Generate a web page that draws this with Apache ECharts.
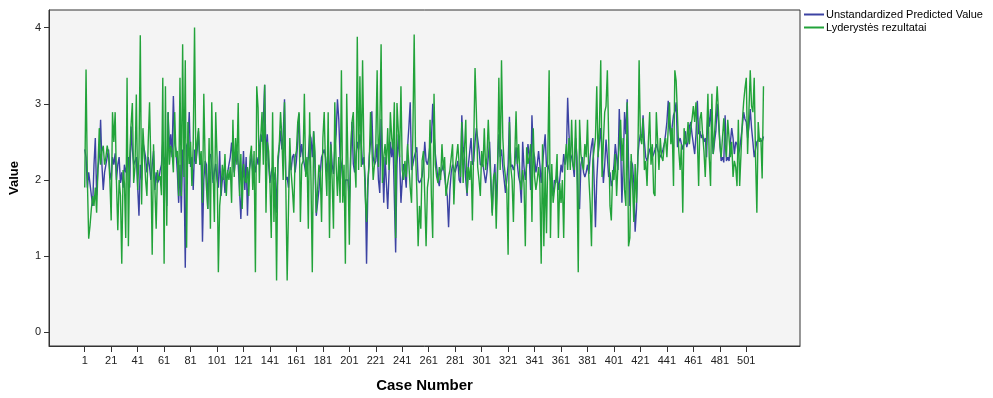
<!DOCTYPE html>
<html>
<head>
<meta charset="utf-8">
<script src="https://cdn.jsdelivr.net/npm/echarts@6/dist/echarts.min.js"></script>
<style>
  html, body { margin: 0; padding: 0; background: #ffffff; }
  #chart { width: 993px; height: 398px; }
</style>
</head>
<body>
<div id="chart"></div>
<script>
// tick labels shown on the axes
const xTickCases = [1, 21, 41, 61, 81, 101, 121, 141, 161, 181, 201, 221, 241, 261, 281, 301, 321, 341, 361, 381, 401, 421, 441, 461, 481, 501];
const yTickValues = [0, 1, 2, 3, 4];

const seriesNames = ['Unstandardized Predicted Value', 'Lyderystės rezultatai'];

// Unstandardized Predicted Value, case 1..514
const predicted = [
  2.4, 2.3, 1.9, 2.1, 2.1, 1.8, 1.66, 2.2, 2.55, 1.8,
  2.15, 2.3, 2.79, 2.2, 1.87, 2.1, 2.2, 2.2, 2.4, 2.1,
  2.0, 2.3, 2.2, 2.35, 2.0, 2.2, 2.3, 1.96, 2.1, 1.9,
  2.2, 2.1, 2.1, 2.3, 1.9, 2.7, 2.4, 2.2, 2.2, 2.3,
  2.3, 1.53, 2.2, 2.0, 2.5, 2.4, 2.3, 2.1, 2.3,
  2.17, 2.0, 2.2, 2.38, 1.87, 2.1, 1.96, 2.0, 2.13, 2.2,
  2.5, 2.2, 2.3, 1.66, 2.89, 2.4, 2.6, 2.3, 3.1, 2.5,
  2.38, 2.1, 1.7, 2.2, 1.57, 2.4, 2.2, 0.85, 2.45, 2.5,
  2.89, 2.17, 2.3, 1.87, 2.4, 2.21, 2.4, 2.64, 2.2, 2.3,
  1.19, 2.0, 2.25, 2.2, 1.62, 2.3, 2.34, 2.2, 1.96, 2.1,
  2.21, 2.0,
  1.9, 2.38, 1.79, 2.0, 2.1, 1.83, 2.0, 2.1,
  2.2, 2.3, 2.49, 2.3, 2.1, 2.3, 2.38, 2.2, 1.87, 1.49,
  2.0, 2.38, 1.87, 2.3, 1.53, 2.1, 2.2, 2.34, 2.1, 2.2,
  2.1, 2.3, 2.2, 2.21, 2.6, 2.5, 2.8, 3.25, 2.25, 2.6,
  2.2, 1.96, 2.1, 2.17, 2.0, 2.1, 1.57, 2.2, 2.21, 2.65,
  2.4, 2.6, 3.06, 2.0,
  2.04, 1.9, 2.3, 2.13, 2.3, 2.34,
  2.1, 2.25, 2.5, 2.87, 2.3, 2.47, 2.3, 2.2, 2.1, 2.13,
  2.3, 2.6, 2.55, 2.3, 2.64, 2.2, 1.53, 1.7, 1.87, 2.1,
  2.3, 2.3, 2.4, 2.3, 2.1, 2.3, 2.0, 2.5, 2.2, 2.08,
  2.4, 2.6, 3.06, 2.8, 2.3, 2.21, 2.0, 1.79, 2.0, 2.0,
  2.0, 1.7, 2.3, 2.76, 2.21, 2.1, 2.3, 2.5,
  2.4, 2.6,
  2.47, 2.2, 2.3, 2.0, 0.9, 1.9, 2.3, 2.5, 2.9, 2.3,
  2.2, 2.25, 2.47, 2.0, 1.83, 2.8, 2.3, 1.7, 2.3, 2.3,
  1.62, 2.1, 2.5, 2.3, 2.5, 2.5, 1.05, 2.2, 2.6, 2.3,
  1.7, 2.0, 2.21, 2.1, 1.9, 2.43, 2.7, 3.02, 2.13, 2.2,
  2.3, 2.3, 2.43, 2.0, 1.96, 2.0, 2.05, 2.2, 2.5,
  2.25,
  2.2, 2.3, 2.47, 2.5, 3.0, 2.6, 2.34, 2.34, 2.0, 1.92,
  2.1, 2.13, 2.2, 2.21, 1.9, 1.79, 1.38, 1.87, 2.1, 2.2,
  2.21, 2.1, 2.09, 2.25, 2.0, 1.96, 2.85, 2.43, 2.3, 2.0,
  1.79, 2.2, 2.2, 2.55, 2.2, 2.25, 2.5, 2.68, 2.68, 2.4,
  2.2, 2.21, 2.2, 2.21, 1.96, 2.1, 2.3, 2.5, 2.0, 1.57,
  2.0, 2.21,
  1.62, 2.2, 2.6, 2.3, 2.4, 2.17, 2.0, 1.83,
  2.0, 2.2, 2.83, 2.17, 2.2, 2.13, 2.2, 2.43, 2.2, 2.04,
  1.96, 1.7, 2.5, 2.17, 2.0, 2.2, 2.47, 2.3, 1.87, 2.85,
  2.38, 2.3, 2.1, 2.2, 2.38, 2.2, 1.96, 2.2, 2.4, 2.6,
  2.17, 2.2, 2.13, 2.0, 2.0, 1.79, 2.0, 1.96, 2.1, 1.87,
  2.0, 2.2, 2.1, 2.34,
  2.2, 2.3, 3.08, 2.6, 2.34, 2.3,
  2.2, 2.04, 2.55, 2.3, 1.66, 1.62, 2.2, 2.3, 2.1, 2.04,
  2.1, 2.2, 2.08, 2.3, 2.45, 2.55, 2.0, 1.38, 2.0, 2.34,
  2.5, 2.68, 2.3, 1.96, 2.2, 2.53, 2.3, 2.04, 2.1, 1.92,
  2.0, 2.2, 2.47, 2.3, 2.13, 2.93, 2.5, 1.7, 2.2, 2.89,
  2.6, 3.06, 2.25, 1.66, 2.25, 2.2, 1.96,
  1.32, 1.62, 2.3,
  2.5, 2.6, 2.55, 2.85, 2.5, 2.3, 2.25, 2.25, 2.4, 2.43,
  2.3, 2.34, 2.4, 2.47, 2.4, 2.38, 2.3, 2.34, 2.4, 2.47,
  2.6, 2.76, 3.04, 2.7, 2.55, 2.7, 2.85, 2.9, 3.02, 2.43,
  2.5, 2.55, 2.47, 2.4, 2.5, 2.64, 2.43, 2.5, 2.7, 2.76,
  2.6, 2.6, 2.34, 2.6, 3.04, 2.6, 2.64, 2.55, 2.6,
  2.5,
  2.55, 2.3, 2.89, 2.7, 2.93, 2.6, 2.34, 2.5, 2.64, 3.0,
  2.76, 2.5, 2.25, 2.3, 2.23, 2.85, 2.25, 2.3, 2.25, 2.5,
  2.68, 2.55, 2.34, 2.5, 2.47, 2.34, 2.4, 2.55, 2.7, 2.89,
  2.8, 2.76, 2.55, 2.7, 2.93, 2.68, 2.5, 2.3, 2.4, 2.5,
  2.5, 2.55, 2.55, 2.5, 2.57
];

// Lyderystės rezultatai, case 1..514
const observed = [
  1.9, 3.45, 2.0, 1.23, 1.4, 1.62, 1.79, 1.66, 1.9, 1.57,
  2.17, 2.68, 2.2, 2.38, 2.45, 2.2, 2.3, 2.45, 2.34, 2.0,
  1.47, 2.89, 2.5, 2.89, 1.96, 1.34, 2.0, 1.8, 0.9, 2.13,
  1.96, 1.24, 3.34, 1.13, 2.3, 2.72, 3.01, 1.96, 2.17, 3.12,
  1.87, 2.3, 3.9, 1.68, 2.68, 2.68, 2.0, 1.79, 2.5,
  3.02, 2.2, 1.02, 2.47, 1.9, 1.36, 2.13, 2.0, 2.05, 1.8,
  3.34, 0.9, 3.23, 1.4, 2.89, 2.2, 2.45, 2.38, 2.1, 2.89,
  2.3, 2.38, 1.79, 3.34, 1.79, 3.78, 2.04, 3.57, 1.11, 2.76,
  2.21, 2.5, 1.92, 2.47, 4.0, 2.21, 2.5, 2.68, 2.2, 2.38,
  1.7, 3.13, 2.25, 1.9, 1.62, 2.55, 1.36, 3.02, 2.13, 1.45,
  2.89, 2.3,
  0.79, 1.66, 1.87, 2.2, 2.0, 2.34, 1.79, 2.13,
  2.0, 2.17, 1.7, 2.79, 2.04, 2.55, 2.2, 3.01, 1.79, 2.34,
  1.62, 2.21, 2.0, 1.96, 2.17, 1.79, 2.3, 2.45, 1.87, 2.38,
  0.79, 3.23, 2.95, 1.96, 2.55, 2.89, 2.2, 3.25, 1.57, 2.5,
  2.38, 1.96, 1.24, 2.89, 1.45, 2.17, 0.68, 2.3, 2.45, 2.89,
  2.55, 2.0, 3.02, 1.9,
  0.68, 1.62, 2.55, 2.1, 1.87, 1.57,
  2.3, 2.38, 2.76, 2.89, 1.45, 2.2, 2.25, 3.13, 2.04, 2.3,
  1.36, 2.89, 2.0, 0.79, 2.64, 2.38, 1.57, 1.87, 2.2, 2.1,
  1.45, 2.55, 2.89, 2.17, 1.79, 2.89, 1.24, 2.47, 2.0, 1.36,
  3.02, 2.21, 1.79, 2.3, 1.7, 3.44, 1.7, 2.2, 0.9, 3.13,
  2.13, 1.15, 2.38, 2.76, 2.89, 2.25, 1.9, 3.88,
  2.13, 3.36,
  2.17, 3.57, 2.38, 1.79, 1.45, 2.0, 2.21, 2.89, 2.89, 2.0,
  2.21, 2.47, 3.44, 2.17, 2.64, 3.78, 1.96, 2.3, 2.47, 2.2,
  2.68, 2.13, 2.89, 2.55, 2.4, 3.02, 1.24, 3.01, 3.02, 2.3,
  3.23, 2.13, 2.0, 2.25, 2.04, 2.47, 2.2, 1.9, 1.7, 2.6,
  3.91, 2.38, 1.87, 1.13, 1.66, 1.36, 2.25, 2.38, 1.79,
  1.13,
  1.9, 2.04, 2.79, 1.79, 1.24, 3.13, 2.2, 2.04, 1.96, 2.17,
  2.0, 2.47, 2.13, 2.3, 1.79, 1.92, 2.04, 2.13, 2.3, 2.47,
  1.68, 2.17, 2.3, 2.47, 2.2, 2.04, 2.76, 1.96, 2.4, 2.79,
  1.83, 2.17, 2.0, 2.25, 1.47, 2.47, 3.47, 2.89, 2.17, 2.0,
  1.79, 2.38, 2.17, 2.68, 2.13, 2.3, 2.79, 2.34, 1.92, 1.53,
  2.04, 2.1,
  1.36, 2.04, 3.34, 2.13, 3.57, 2.55, 2.2, 2.04,
  1.87, 1.02, 2.76, 2.17, 2.0, 1.45, 2.3, 2.9, 2.21, 2.47,
  2.0, 1.87, 2.13, 1.96, 1.13, 2.43, 2.21, 2.3, 2.47, 1.45,
  2.68, 2.04, 1.87, 2.0, 2.17, 1.96, 0.9, 2.47, 1.13, 2.17,
  1.3, 2.3, 3.44, 1.24, 2.21, 1.7, 1.87, 2.0, 2.34, 1.24,
  1.96, 1.7, 2.0, 1.24,
  2.25, 2.47, 2.13, 2.55, 2.13, 2.79,
  2.2, 2.13, 2.79, 2.13, 0.79, 2.79, 2.34, 2.2, 2.13, 2.47,
  2.3, 2.79, 2.04, 1.7, 1.13, 2.25, 2.4, 2.55, 3.23, 2.3,
  2.68, 3.57, 2.04, 2.5, 2.89, 2.97, 3.44, 2.55, 1.66, 1.47,
  2.13, 2.0, 2.34, 1.79, 2.2, 2.47, 2.79, 2.25, 2.55, 1.87,
  1.66, 3.02, 1.13, 1.24, 2.34, 1.96, 1.45,
  2.21, 1.7, 2.21,
  3.57, 2.55, 2.47, 2.81, 2.13, 2.25, 1.92, 2.5, 2.89, 2.2,
  2.47, 1.83, 1.79, 2.89, 2.89, 2.13, 2.55, 2.3, 2.25, 2.47,
  2.55, 2.3, 2.68, 3.02, 2.47, 2.68, 1.92, 3.44, 3.3, 3.32,
  2.38, 2.13, 2.47, 1.57, 2.68, 2.47, 2.5, 2.76, 2.47, 2.68,
  2.8, 2.97, 2.76, 3.02, 2.55, 1.92, 2.8, 2.89, 2.6,
  2.38,
  2.04, 2.55, 3.13, 2.3, 1.92, 3.13, 2.34, 2.6, 2.89, 3.23,
  2.89, 2.47, 2.3, 2.55, 2.81, 2.47, 2.3, 2.79, 2.81, 2.3,
  2.5, 2.04, 2.25, 2.17, 1.92, 2.79, 1.92, 2.34, 2.76, 3.02,
  3.2, 3.34, 2.34, 2.9, 3.44, 2.97, 2.89, 3.34, 2.3, 1.57,
  2.76, 2.5, 2.55, 2.02, 3.23
];

const colors = ['#3c43a3', '#22a33a'];

function toPairs(values) {
  return values.map((v, i) => [i + 1, v]);
}

const chartDom = document.getElementById('chart');
const myChart = echarts.init(chartDom, null, { renderer: 'canvas' });

const option = {
  animation: false,
  backgroundColor: '#ffffff',
  textStyle: { fontFamily: 'Liberation Sans, Arial, sans-serif' },
  grid: {
    left: 45,
    top: 10,
    right: 193,
    bottom: 42,
    show: true,
    backgroundColor: '#f4f4f4',
    borderColor: '#333333',
    borderWidth: 1,
  },
  legend: {
    orient: 'vertical',
    left: 804,
    top: 9,
    padding: 0,
    itemGap: 2,
    itemWidth: 20,
    itemHeight: 2,
    icon: 'rect',
    data: seriesNames,
    textStyle: { fontSize: 11, color: '#000000', padding: [0, 0, 0, -3] },
  },
  xAxis: {
    type: 'value',
    min: -26,
    max: 541.6,
    name: 'Case Number',
    nameLocation: 'middle',
    nameGap: 32,
    nameTextStyle: { fontSize: 15, fontWeight: 'bold', color: '#000000' },
    splitLine: { show: false },
    axisLine: { onZero: false, lineStyle: { color: '#333333' } },
    axisTick: { customValues: xTickCases, length: 6, lineStyle: { color: '#333333' } },
    axisLabel: { customValues: xTickCases, fontSize: 11, color: '#222222', margin: 9 },
  },
  yAxis: {
    type: 'value',
    min: -0.178,
    max: 4.23,
    name: 'Value',
    nameLocation: 'middle',
    nameRotate: 90,
    nameGap: 28,
    nameTextStyle: { fontSize: 13, fontWeight: 'bold', color: '#000000' },
    splitLine: { show: false },
    axisLine: { show: true, onZero: false, lineStyle: { color: '#333333' } },
    axisTick: { show: true, customValues: yTickValues, length: 5, lineStyle: { color: '#333333' } },
    axisLabel: { customValues: yTickValues, fontSize: 11, color: '#222222', margin: 8 },
  },
  series: [
    {
      name: seriesNames[0],
      type: 'line',
      data: toPairs(predicted),
      showSymbol: false,
      color: colors[0],
      lineStyle: { width: 1.4, color: colors[0] },
    },
    {
      name: seriesNames[1],
      type: 'line',
      data: toPairs(observed),
      showSymbol: false,
      color: colors[1],
      lineStyle: { width: 1.4, color: colors[1] },
    },
  ],
};

myChart.setOption(option);
</script>
</body>
</html>
